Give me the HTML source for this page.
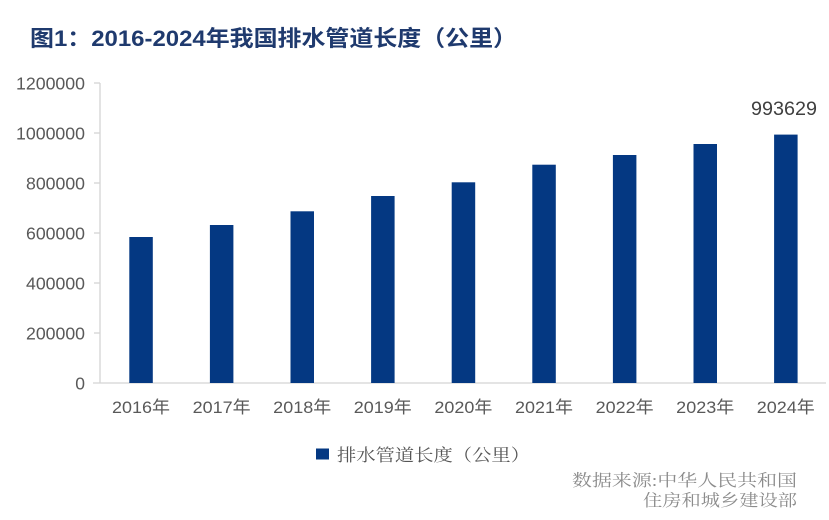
<!DOCTYPE html>
<html>
<head>
<meta charset="utf-8">
<style>
html,body{margin:0;padding:0;background:#fff;}
svg{display:block;}
</style>
</head>
<body>
<svg width="829" height="520" viewBox="0 0 829 520" xmlns="http://www.w3.org/2000/svg">
<rect x="0" y="0" width="829" height="520" fill="#ffffff"/>
<!-- Title -->
<text x="30" y="46" font-family="'Liberation Sans','Noto Sans CJK SC',sans-serif" font-weight="bold" font-size="22" fill="#1f3a6e" textLength="487" lengthAdjust="spacingAndGlyphs">图1：2016-2024年我国排水管道长度（公里）</text>

<!-- Axes -->
<g stroke="#d4d4d4" stroke-width="1.3" fill="none">
<line x1="100" y1="83" x2="100" y2="383"/>
<line x1="93" y1="383" x2="826" y2="383"/>
<line x1="94" y1="83" x2="100" y2="83"/>
<line x1="94" y1="133" x2="100" y2="133"/>
<line x1="94" y1="183" x2="100" y2="183"/>
<line x1="94" y1="233" x2="100" y2="233"/>
<line x1="94" y1="283" x2="100" y2="283"/>
<line x1="94" y1="333" x2="100" y2="333"/>
</g>

<!-- Y tick labels -->
<g font-family="'Liberation Sans',sans-serif" font-size="17.5" fill="#595959" text-anchor="end">
<text x="85" y="89.5" textLength="69" lengthAdjust="spacingAndGlyphs">1200000</text>
<text x="85" y="139.5" textLength="69" lengthAdjust="spacingAndGlyphs">1000000</text>
<text x="85" y="189.5" textLength="59" lengthAdjust="spacingAndGlyphs">800000</text>
<text x="85" y="239.5" textLength="59" lengthAdjust="spacingAndGlyphs">600000</text>
<text x="85" y="289.5" textLength="59" lengthAdjust="spacingAndGlyphs">400000</text>
<text x="85" y="339.5" textLength="59" lengthAdjust="spacingAndGlyphs">200000</text>
<text x="85" y="389.5">0</text>
</g>

<!-- Bars -->
<g fill="#043882">
<rect x="129.3" y="237" width="23.5" height="146"/>
<rect x="209.9" y="225" width="23.5" height="158"/>
<rect x="290.5" y="211.3" width="23.5" height="171.7"/>
<rect x="371.1" y="196" width="23.5" height="187"/>
<rect x="451.7" y="182.3" width="23.5" height="200.7"/>
<rect x="532.3" y="164.7" width="23.5" height="218.3"/>
<rect x="612.9" y="155" width="23.5" height="228"/>
<rect x="693.5" y="144" width="23.5" height="239"/>
<rect x="774.1" y="134.6" width="23.5" height="248.4"/>
</g>

<!-- Data label -->
<text x="784" y="115" font-family="'Liberation Sans',sans-serif" font-size="19.5" fill="#404040" text-anchor="middle" textLength="66" lengthAdjust="spacingAndGlyphs">993629</text>

<!-- X labels -->
<g font-family="'Liberation Sans','Noto Sans CJK SC',sans-serif" font-size="17" fill="#595959" text-anchor="middle">
<text x="141" y="413" textLength="58" lengthAdjust="spacingAndGlyphs">2016年</text>
<text x="221.6" y="413" textLength="58" lengthAdjust="spacingAndGlyphs">2017年</text>
<text x="302.2" y="413" textLength="58" lengthAdjust="spacingAndGlyphs">2018年</text>
<text x="382.8" y="413" textLength="58" lengthAdjust="spacingAndGlyphs">2019年</text>
<text x="463.4" y="413" textLength="58" lengthAdjust="spacingAndGlyphs">2020年</text>
<text x="544" y="413" textLength="58" lengthAdjust="spacingAndGlyphs">2021年</text>
<text x="624.6" y="413" textLength="58" lengthAdjust="spacingAndGlyphs">2022年</text>
<text x="705.2" y="413" textLength="58" lengthAdjust="spacingAndGlyphs">2023年</text>
<text x="785.8" y="413" textLength="58" lengthAdjust="spacingAndGlyphs">2024年</text>
</g>

<!-- Legend -->
<rect x="316" y="448.5" width="13" height="11" fill="#043882"/>
<text x="337" y="461" font-family="'Liberation Sans','Noto Serif CJK SC',serif" font-size="17" fill="#555555" textLength="193" lengthAdjust="spacingAndGlyphs">排水管道长度（公里）</text>

<!-- Source -->
<g font-family="'Liberation Serif','Noto Serif CJK SC',serif" font-size="16.5" fill="#8c8c8c" text-anchor="end">
<text x="797" y="486" textLength="225" lengthAdjust="spacingAndGlyphs">数据来源:中华人民共和国</text>
<text x="797" y="506" textLength="154" lengthAdjust="spacingAndGlyphs">住房和城乡建设部</text>
</g>
</svg>
</body>
</html>
